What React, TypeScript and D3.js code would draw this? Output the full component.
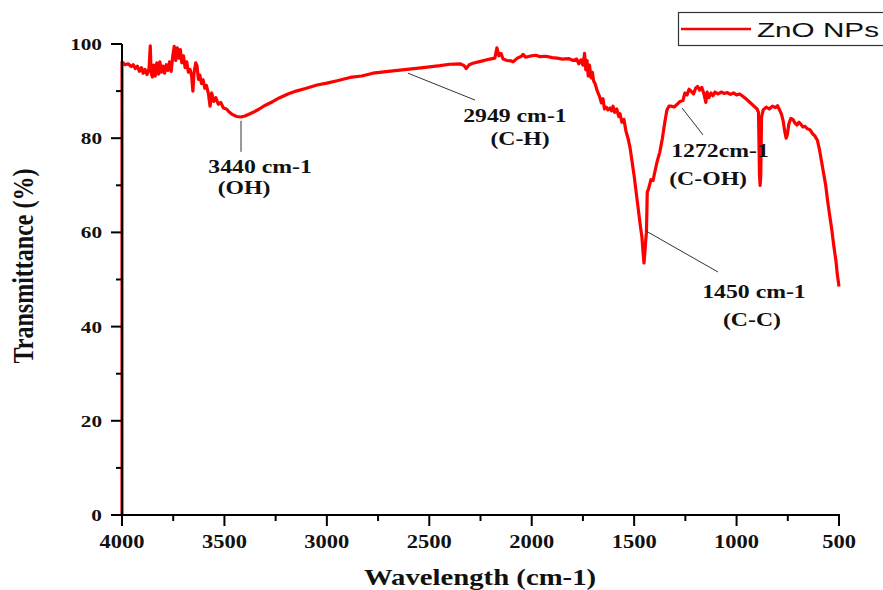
import React from "react";
import * as d3 from "d3";

const W = 883;
const H = 590;

// FTIR spectrum of ZnO NPs: [wavenumber (cm-1), transmittance (%)]
const spectrum: [number, number][] = [
  [4000, 0], [4000, 96.2], [3985, 95.6], [3970, 95.8], [3955, 95.2], [3945, 95.6],
  [3935, 94.8], [3925, 95.3], [3915, 94.2], [3905, 95.0], [3897, 93.8], [3888, 94.6],
  [3878, 93.5], [3868, 94.8], [3862, 99.6], [3858, 94.0], [3852, 93.0], [3845, 95.5],
  [3838, 93.2], [3830, 96.0], [3822, 93.6], [3815, 96.2], [3808, 94.0], [3800, 95.3],
  [3792, 93.8], [3784, 95.6], [3776, 94.4], [3768, 96.2], [3760, 94.2], [3752, 97.5],
  [3745, 99.5], [3738, 96.5], [3730, 99.2], [3722, 97.0], [3715, 98.8], [3708, 96.0],
  [3700, 97.5], [3692, 95.0], [3684, 96.2], [3676, 94.0], [3668, 94.6], [3660, 93.2],
  [3654, 90.0], [3648, 94.0], [3640, 96.0], [3634, 95.4], [3627, 92.5], [3620, 93.4],
  [3612, 91.6], [3604, 92.4], [3596, 90.6], [3588, 91.2], [3578, 89.4], [3570, 86.8],
  [3562, 89.6], [3552, 87.8], [3542, 88.6], [3530, 87.2], [3518, 87.6], [3505, 86.4],
  [3490, 86.2], [3475, 85.5], [3460, 85.0], [3440, 84.6], [3420, 84.5], [3400, 84.7],
  [3380, 85.1], [3360, 85.5], [3330, 86.2], [3300, 87.0], [3263, 87.8], [3230, 88.6],
  [3190, 89.4], [3150, 90.0], [3100, 90.6], [3048, 91.3], [3000, 91.7], [2950, 92.2],
  [2887, 92.9], [2830, 93.2], [2775, 93.8], [2700, 94.2], [2609, 94.6], [2530, 95.0],
  [2448, 95.4], [2400, 95.7], [2350, 95.8], [2330, 95.4], [2320, 94.8], [2305, 95.6],
  [2287, 95.9], [2250, 96.3], [2204, 96.8], [2180, 97.0], [2170, 99.2], [2160, 97.5],
  [2150, 98.0], [2140, 96.8], [2120, 96.5], [2100, 96.4], [2091, 96.2], [2070, 97.0],
  [2050, 97.4], [2042, 97.8], [2030, 97.2], [2000, 97.5], [1980, 97.6], [1959, 97.3],
  [1930, 97.4], [1900, 97.1], [1876, 97.0], [1850, 96.8], [1820, 96.9], [1798, 96.5],
  [1780, 96.8], [1770, 95.8], [1760, 96.6], [1750, 95.5], [1742, 98.0], [1736, 94.5],
  [1730, 96.5], [1724, 93.2], [1718, 95.5], [1710, 92.8], [1704, 94.0], [1698, 92.2],
  [1690, 91.5], [1680, 90.0], [1670, 89.0], [1660, 87.5], [1652, 88.4], [1645, 86.2],
  [1636, 86.6], [1628, 86.0], [1618, 86.4], [1610, 85.8], [1603, 86.8], [1595, 85.5],
  [1585, 86.2], [1575, 84.6], [1569, 85.2], [1560, 83.4], [1550, 84.0], [1540, 81.5],
  [1530, 80.0], [1520, 78.0], [1510, 75.0], [1500, 72.0], [1490, 68.5], [1480, 65.0],
  [1470, 61.5], [1462, 59.0], [1456, 55.5], [1452, 53.5], [1448, 55.5], [1444, 58.0],
  [1440, 60.0], [1436, 68.5], [1428, 69.5], [1418, 71.2], [1408, 71.0], [1398, 73.0],
  [1388, 75.0], [1375, 77.0], [1362, 80.0], [1350, 83.5], [1340, 86.0], [1330, 86.8],
  [1318, 86.8], [1305, 86.6], [1290, 87.2], [1276, 87.8], [1262, 88.0], [1252, 89.6],
  [1242, 89.2], [1232, 90.4], [1222, 90.0], [1210, 89.4], [1200, 90.6], [1190, 91.0],
  [1180, 90.2], [1170, 90.8], [1160, 89.5], [1150, 87.6], [1144, 89.8], [1135, 88.6],
  [1125, 89.6], [1115, 89.0], [1105, 89.8], [1090, 89.4], [1075, 89.8], [1060, 89.5],
  [1045, 89.7], [1030, 89.3], [1015, 89.6], [1000, 89.2], [985, 89.4], [970, 88.9],
  [955, 88.4], [940, 87.8], [925, 87.2], [910, 86.6], [900, 86.2], [893, 85.5],
  [888, 72.0], [885, 70.0], [882, 72.0], [878, 84.5], [870, 86.0], [855, 86.6],
  [840, 86.2], [825, 86.8], [810, 86.5], [800, 86.9], [790, 86.0], [780, 85.0],
  [772, 83.5], [765, 81.5], [758, 80.0], [752, 80.8], [745, 83.0], [735, 84.2],
  [725, 84.0], [715, 83.2], [705, 82.8], [695, 83.4], [685, 82.9], [676, 82.4],
  [665, 82.5], [655, 82.0], [642, 81.8], [630, 81.0], [618, 80.5], [605, 79.5],
  [595, 77.5], [585, 75.0], [575, 72.5], [565, 70.0], [555, 66.5], [545, 63.5],
  [535, 60.5], [525, 57.0], [515, 54.0], [508, 51.0], [503, 49.5], [500, 48.5],
];

const xMajorTicks = [4000, 3500, 3000, 2500, 2000, 1500, 1000, 500];
const xMinorTicks = [3750, 3250, 2750, 2250, 1750, 1250, 750];
const yMajorTicks = [0, 20, 40, 60, 80, 100];
const yMinorTicks = [10, 30, 50, 70, 90];

const seriesName = "ZnO NPs";
const xTitle = "Wavelength (cm-1)";
const yTitle = "Transmittance (%)";

// annotations: label lines, leader from/to and text anchor in data units
const annLabels = ["3440 cm-1", "2949 cm-1", "1272cm-1", "1450 cm-1"];
const annSubLabels = ["(OH)", "(C-H)", "(C-OH)", "(C-C)"];
const annLeaderFrom: [number, number][] = [[3419, 83.7], [2604, 93.8], [1266, 86.4], [1442, 60.3]];
const annLeaderTo: [number, number][] = [[3419, 77.1], [2277, 88.1], [1164, 80.7], [1091, 51.6]];
const annLabelPos: [number, number][] = [[3326, 72.6], [2082, 83.4], [1081, 76.0], [915, 46.1]];
const annSubPos: [number, number][] = [[3404, 68.2], [2057, 78.6], [1139, 70.1], [925, 40.1]];

const SERIF = "'Liberation Serif', 'Times New Roman', serif";
const SANS = "'Liberation Sans', Arial, sans-serif";
const SX = 1.25;

const x = d3.scaleLinear().domain([4000, 500]).range([122, 839]);
const y = d3.scaleLinear().domain([0, 100]).range([515, 44]);

function T(props: {
  x: number; y: number; size: number; anchor?: string; children: React.ReactNode;
}) {
  return (
    <text
      transform={`translate(${props.x},${props.y}) scale(${SX},1)`}
      textAnchor={props.anchor || "middle"}
      fontFamily={SERIF}
      fontWeight="bold"
      fontSize={props.size}
      fill="#111"
    >
      {props.children}
    </text>
  );
}

export default function App() {
  const line = d3
    .line<[number, number]>()
    .x((d) => x(d[0]))
    .y((d) => y(d[1]));

  return (
    <svg
      width={W}
      height={H}
      style={{ position: "absolute", left: 0, top: 0, background: "#fff" }}
    >
      <rect width={W} height={H} fill="#fff" />

      {/* spectrum */}
      <path
        d={line(spectrum) || ""}
        fill="none"
        stroke="#ff0000"
        strokeWidth={3.2}
        strokeLinejoin="round"
      />

      {/* axes */}
      <line x1={x(4000)} x2={x(4000)} y1={y(0) + 1} y2={y(100)} stroke="#000" strokeWidth={2} />
      <line x1={x(4000) - 1} x2={x(500) + 1} y1={y(0)} y2={y(0)} stroke="#000" strokeWidth={2} />
      {yMajorTicks.map((t) => (
        <g key={"ym" + t}>
          <line x1={x(4000) - 11} x2={x(4000)} y1={y(t)} y2={y(t)} stroke="#000" strokeWidth={2} />
          <T x={102} y={y(t) + 6} size={17} anchor="end">{t}</T>
        </g>
      ))}
      {yMinorTicks.map((t) => (
        <line key={"yn" + t} x1={x(4000) - 6} x2={x(4000)} y1={y(t)} y2={y(t)} stroke="#000" strokeWidth={2} />
      ))}
      {xMajorTicks.map((t) => (
        <g key={"xm" + t}>
          <line x1={x(t)} x2={x(t)} y1={y(0)} y2={y(0) + 11} stroke="#000" strokeWidth={2} />
          <T x={x(t)} y={548} size={18}>{t}</T>
        </g>
      ))}
      {xMinorTicks.map((t) => (
        <line key={"xn" + t} x1={x(t)} x2={x(t)} y1={y(0)} y2={y(0) + 6} stroke="#000" strokeWidth={2} />
      ))}

      {/* axis titles */}
      <T x={480} y={585} size={23}>{xTitle}</T>
      <text
        transform={`translate(33,266) rotate(-90) scale(1,${SX})`}
        textAnchor="middle"
        fontFamily={SERIF}
        fontWeight="bold"
        fontSize={24}
        fill="#111"
      >
        {yTitle}
      </text>

      {/* annotations */}
      {annLabels.map((lab, i) => (
        <g key={"ann" + i}>
          <line
            x1={x(annLeaderFrom[i][0])}
            y1={y(annLeaderFrom[i][1])}
            x2={x(annLeaderTo[i][0])}
            y2={y(annLeaderTo[i][1])}
            stroke="#333"
            strokeWidth={1}
          />
          <T x={x(annLabelPos[i][0])} y={y(annLabelPos[i][1])} size={19}>{lab}</T>
          <T x={x(annSubPos[i][0])} y={y(annSubPos[i][1])} size={19}>{annSubLabels[i]}</T>
        </g>
      ))}

      {/* legend */}
      <rect x={678.5} y={12.5} width={220} height={33} fill="#fff" stroke="#333" strokeWidth={1.2} />
      <line x1={681} x2={751} y1={29} y2={29} stroke="#ff0000" strokeWidth={2.6} />
      <text
        x={757}
        y={37}
        fontFamily={SANS}
        fontSize={21}
        fill="#111"
        textLength={122}
        lengthAdjust="spacingAndGlyphs"
      >
        {seriesName}
      </text>
    </svg>
  );
}
